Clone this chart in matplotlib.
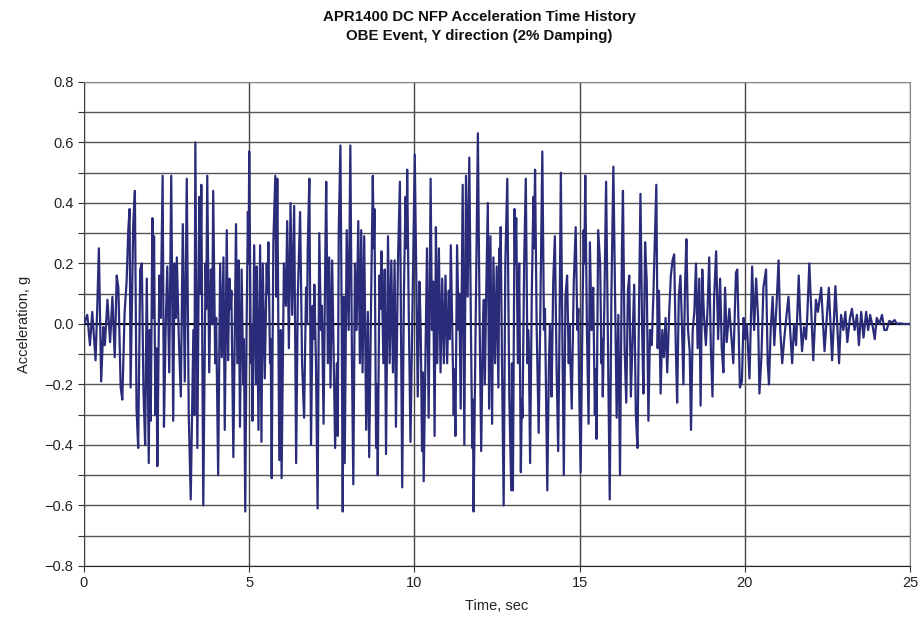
import matplotlib
matplotlib.use('Agg')
import matplotlib.pyplot as plt
import matplotlib.ticker as ticker

plt.rcParams['font.family'] = ['Liberation Sans', 'DejaVu Sans']

# ---------------------------------------------------------------------------
# Acceleration time history (extrema, in g)
# ---------------------------------------------------------------------------
time_s = [
    0.00, 0.10, 0.18, 0.25, 0.35, 0.40, 0.45, 0.52, 0.585, 0.63, 0.71, 0.79, 0.86, 0.93, 0.99,
    1.04, 1.11, 1.16, 1.23, 1.29, 1.34, 1.38, 1.41, 1.49, 1.54, 1.59, 1.64, 1.70, 1.75, 1.80,
    1.85, 1.90, 1.96, 1.99, 2.02, 2.07, 2.10, 2.12, 2.16, 2.19, 2.22, 2.28, 2.32, 2.38, 2.42,
    2.47, 2.52, 2.58, 2.64, 2.70, 2.74, 2.78, 2.81, 2.87, 2.93, 2.99, 3.05, 3.11, 3.17,
    3.23, 3.31, 3.34, 3.37, 3.43, 3.49, 3.52, 3.55, 3.61, 3.68, 3.70, 3.73, 3.79, 3.84, 3.88,
    3.91, 3.97, 4.00, 4.06, 4.12, 4.17, 4.22, 4.26, 4.32, 4.36, 4.40, 4.44, 4.46, 4.52, 4.60,
    4.64, 4.68, 4.72, 4.77, 4.82, 4.84, 4.88, 4.92, 4.96, 4.98, 5.00, 5.05, 5.07, 5.10, 5.15,
    5.20, 5.23, 5.28, 5.33, 5.37, 5.41, 5.47, 5.53, 5.55, 5.58, 5.63, 5.65, 5.68, 5.73, 5.79,
    5.82, 5.85, 5.91, 5.95, 5.98, 6.05, 6.11, 6.15, 6.20, 6.25, 6.30, 6.36, 6.42,
    6.47, 6.54, 6.60, 6.66, 6.72, 6.75, 6.77, 6.82, 6.87, 6.92, 6.95, 6.97, 7.02, 7.07, 7.12,
    7.17, 7.20, 7.25, 7.30, 7.33, 7.38, 7.42, 7.46, 7.51, 7.56, 7.60, 7.65, 7.68, 7.71, 7.76,
    7.80, 7.83, 7.86, 7.89, 7.95, 8.01, 8.06, 8.11, 8.15, 8.20, 8.25, 8.30, 8.35, 8.39, 8.43,
    8.48, 8.54, 8.59, 8.63, 8.69, 8.74, 8.77, 8.79, 8.84, 8.87, 8.89, 8.94, 8.97, 9.00, 9.06,
    9.10, 9.14, 9.20, 9.25, 9.30, 9.35, 9.40, 9.44, 9.50, 9.56, 9.63,
    9.68, 9.73, 9.76, 9.78, 9.83, 9.88, 9.93, 10.01, 10.05, 10.10, 10.15, 10.19, 10.23, 10.25,
    10.28, 10.33, 10.38, 10.43, 10.49, 10.53, 10.57, 10.61, 10.65, 10.69, 10.74, 10.79, 10.84,
    10.89, 10.94, 10.99, 11.04, 11.07, 11.10, 11.19, 11.21, 11.24, 11.29, 11.34, 11.36, 11.40,
    11.46, 11.51, 11.56, 11.61, 11.66, 11.71, 11.75, 11.77, 11.79, 11.85, 11.92, 11.97, 12.02,
    12.07, 12.10, 12.13, 12.17, 12.22, 12.26, 12.30, 12.35, 12.39, 12.44, 12.49, 12.54, 12.57,
    12.59, 12.61, 12.65, 12.70, 12.75, 12.81, 12.87,
    12.93, 12.95, 12.98, 13.03, 13.05, 13.08, 13.13, 13.17, 13.22, 13.25, 13.27, 13.32, 13.37,
    13.42, 13.44, 13.46, 13.50, 13.55, 13.60, 13.62, 13.65, 13.70, 13.76, 13.81, 13.87, 13.92,
    13.95, 13.97, 14.02, 14.07, 14.10, 14.12, 14.15, 14.20, 14.25, 14.30, 14.35, 14.39, 14.43,
    14.48, 14.52, 14.57, 14.62, 14.67, 14.69, 14.71, 14.76, 14.82, 14.88, 14.93, 14.96, 14.98,
    15.03, 15.08, 15.12, 15.14, 15.17, 15.22, 15.27, 15.31, 15.36, 15.41, 15.46, 15.49, 15.51,
    15.56, 15.62, 15.66, 15.68, 15.70, 15.75, 15.80, 15.85, 15.91, 15.96, 16.02,
    16.12, 16.17, 16.22, 16.28, 16.31, 16.36, 16.41, 16.46, 16.50, 16.55, 16.60, 16.65, 16.70,
    16.75, 16.80, 16.84, 16.89, 16.93, 16.98, 17.03, 17.08, 17.13, 17.18, 17.23, 17.27, 17.32,
    17.36, 17.40, 17.45, 17.50, 17.55, 17.60, 17.65, 17.71, 17.76, 17.81, 17.86, 17.91, 17.95,
    18.00, 18.05, 18.10, 18.14, 18.19, 18.23, 18.28, 18.33, 18.37, 18.42, 18.47, 18.52, 18.57,
    18.62, 18.66, 18.71, 18.76, 18.82, 18.87, 18.92, 18.97, 19.02, 19.07, 19.13, 19.19, 19.23,
    19.25, 19.30, 19.35, 19.40, 19.45, 19.53, 19.65, 19.73, 19.77, 19.85, 19.91, 19.96, 20.01,
    20.06, 20.14, 20.22, 20.28, 20.34, 20.40, 20.44, 20.50, 20.56, 20.64, 20.69, 20.73, 20.78,
    20.84, 20.89, 20.96, 21.02, 21.07, 21.13, 21.19, 21.27, 21.32, 21.37, 21.43, 21.49, 21.55,
    21.63, 21.67, 21.73, 21.79, 21.85, 21.89,
    21.95, 22.07, 22.15, 22.21, 22.31, 22.41, 22.54, 22.64, 22.74, 22.85, 22.91, 22.98, 23.04,
    23.10, 23.18, 23.24, 23.32, 23.39, 23.45, 23.52, 23.59, 23.67, 23.73, 23.79, 23.87, 23.93,
    23.99, 24.07, 24.15, 24.22, 24.29, 24.37, 24.46, 24.53, 24.60, 24.68, 24.83, 25.00,
]

accel_g = [
    0.00, 0.03, -0.07, 0.04, -0.12, 0.05, 0.25, -0.19, -0.01, -0.07, 0.08, -0.06, 0.09, -0.11, 0.16,
    0.12, -0.21, -0.25, 0.04, 0.14, 0.31, 0.38, -0.21, 0.33, 0.44, -0.28, -0.41, 0.18, 0.20, -0.22,
    -0.40, 0.15, -0.46, -0.02, -0.32, 0.35, 0.02, 0.29, -0.30, -0.08, -0.47, 0.16, 0.02, 0.49, -0.34,
    -0.02, 0.19, -0.16, 0.49, -0.32, 0.20, 0.02, 0.22, -0.05, -0.24, 0.33, -0.19, 0.48, -0.30,
    -0.58, -0.02, -0.30, 0.60, -0.41, 0.42, 0.10, 0.46, -0.60, 0.20, 0.05, 0.49, -0.16, 0.18, 0.00,
    0.44, -0.13, 0.02, -0.50, 0.20, -0.11, 0.22, -0.35, 0.31, -0.12, 0.15, 0.05, 0.11, -0.44, 0.33,
    -0.13, 0.21, -0.34, 0.18, -0.20, -0.05, -0.62, -0.02, 0.37, 0.20, 0.57, -0.13, 0.00, -0.32, 0.26,
    -0.20, 0.19, -0.35, 0.26, -0.39, 0.20, -0.18, 0.20, 0.10, 0.27, -0.13, -0.05, -0.51, 0.27, 0.49,
    0.09, 0.48, -0.45, -0.02, -0.51, 0.20, 0.06, 0.34, -0.08, 0.40, 0.03, 0.39, -0.46,
    0.09, 0.37, -0.13, -0.31, 0.12, 0.00, 0.25, 0.48, -0.40, 0.06, -0.05, 0.13, -0.13, -0.61, 0.30,
    -0.02, 0.06, -0.33, 0.20, 0.47, -0.13, 0.22, -0.21, 0.21, -0.13, -0.41, -0.13, -0.37, 0.31, 0.59,
    -0.02, -0.62, 0.09, -0.46, 0.31, -0.02, 0.59, -0.13, -0.53, 0.20, -0.02, 0.34, -0.13, 0.31, -0.16,
    0.29, -0.35, 0.04, -0.44, 0.09, 0.49, 0.25, 0.38, -0.41, -0.20, -0.50, 0.16, 0.05, 0.24, -0.13,
    0.18, -0.43, 0.29, -0.13, 0.21, -0.16, 0.21, -0.34, 0.20, 0.47, -0.54,
    0.09, 0.42, 0.25, 0.51, 0.02, -0.39, -0.02, 0.56, 0.20, -0.24, 0.14, -0.02, -0.42, -0.16,
    -0.52, -0.13, 0.25, -0.31, 0.48, -0.02, 0.14, -0.37, 0.32, -0.13, 0.25, -0.16, 0.15,
    -0.13, 0.16, -0.13, 0.11, -0.05, 0.26, -0.30, -0.15, -0.37, 0.26, -0.02, 0.10, -0.28,
    0.46, -0.40, 0.49, 0.09, 0.55, -0.02, -0.41, -0.25, -0.62, -0.02, 0.63, 0.03, -0.42,
    -0.02, 0.08, -0.20, 0.09, 0.40, -0.28, 0.29, -0.33, 0.22, -0.13, 0.19, -0.21, 0.25,
    0.15, 0.32, -0.13, -0.60, 0.20, 0.48, -0.24,
    -0.55, -0.13, -0.55, 0.38, 0.20, 0.35, -0.13, 0.20, -0.49, -0.25, -0.31, 0.20, 0.48,
    -0.13, -0.02, -0.06, -0.46, 0.09, 0.42, 0.25, 0.51, -0.02, -0.36, 0.04, 0.57, -0.02,
    0.05, -0.13, -0.55, -0.13, 0.00, -0.05, -0.24, 0.14, 0.29, -0.13, -0.42, -0.02, 0.50,
    -0.08, -0.50, 0.09, 0.16, -0.13, 0.00, -0.08, -0.28, 0.13, 0.32, -0.02, 0.05, -0.18,
    -0.49, -0.02, 0.31, 0.20, 0.49, -0.02, -0.33, 0.27, -0.02, 0.12, -0.30, -0.15, -0.38,
    0.31, 0.20, -0.13, -0.05, -0.24, 0.09, 0.47, -0.02, -0.58, 0.09, 0.52,
    -0.31, 0.03, -0.50, 0.25, 0.44, -0.08, -0.26, 0.11, 0.16, -0.24, -0.05, 0.13, -0.30,
    -0.41, 0.09, 0.43, -0.02, -0.23, 0.27, 0.14, -0.32, -0.02, -0.07, 0.09, 0.25, 0.46,
    -0.08, 0.11, -0.23, -0.02, -0.11, 0.02, -0.16, 0.04, 0.16, 0.21, 0.23, -0.08, -0.26,
    0.09, 0.16, -0.02, -0.20, 0.13, 0.28, -0.02, -0.09, -0.35, -0.02, 0.04, 0.20, -0.08,
    0.15, -0.27, 0.18, 0.03, -0.07, 0.05, 0.22, -0.08, -0.24, 0.09, 0.24, -0.05, 0.09,
    0.15, -0.08, -0.16, 0.12, -0.06, 0.05, -0.13, 0.17, 0.18, -0.21, -0.19, 0.02, -0.05,
    0.00, -0.18, 0.19, -0.02, 0.15, 0.02, -0.23, -0.11, 0.12, 0.18, -0.13, -0.20, -0.02,
    0.09, -0.07, 0.07, 0.21, -0.02, -0.13, -0.05, 0.04, 0.09, -0.02, -0.13, 0.00, -0.07,
    0.16, 0.03, -0.09, -0.01, -0.05, 0.03,
    0.20, -0.12, 0.08, 0.04, 0.12, -0.09, 0.12, -0.12, 0.125, -0.13, 0.03, -0.02, 0.04,
    -0.06, 0.02, 0.05, -0.02, 0.03, -0.07, 0.04, -0.045, 0.04, -0.02, 0.03, -0.01, -0.05,
    0.02, 0.00, 0.03, -0.02, -0.02, 0.01, 0.005, 0.013, 0.00, 0.002, 0.0, 0.0,
]

x_ticks = [0, 5, 10, 15, 20, 25]
y_ticks = [-0.8, -0.6, -0.4, -0.2, 0.0, 0.2, 0.4, 0.6, 0.8]

LINE_COLOR = '#2a2c7a'
GRID_COLOR = '#555555'

fig = plt.figure(figsize=(9.22, 6.23), dpi=100)
fig.patch.set_facecolor('white')
ax = fig.add_axes([0.0911, 0.0915, 0.896, 0.777])

ax.plot(time_s, accel_g, color=LINE_COLOR, linewidth=1.6, zorder=3)

ax.set_xlim(0, 25)
ax.set_ylim(-0.8, 0.8)
ax.set_xticks(x_ticks)
ax.set_yticks(y_ticks)
ax.yaxis.set_minor_locator(ticker.MultipleLocator(0.1))
ax.yaxis.set_major_formatter(
    ticker.FuncFormatter(lambda v, _: f'{v:.1f}'.replace('-', '\u2212')))

ax.grid(True, which='both', axis='y', color=GRID_COLOR, linewidth=1.0)
ax.grid(True, which='major', axis='x', color='#444444', linewidth=1.0)
ax.axhline(0, color='black', linewidth=1.4, zorder=2)
ax.set_axisbelow(True)

for side in ('top', 'right'):
    ax.spines[side].set_color('#888888')
ax.spines['left'].set_color('#444444')
ax.spines['bottom'].set_color('#222222')
ax.tick_params(axis='both', which='major', labelsize=10.5, length=4, width=0.8,
               colors='#333333', labelcolor='#222222')
ax.tick_params(axis='y', which='minor', length=4, width=0.8, color='#333333')

ax.set_xlabel('Time, sec', fontsize=10.5, color='#222222', labelpad=6)
ax.set_ylabel('Acceleration, g', fontsize=10.5, color='#222222', labelpad=10)

fig.text(0.52, 0.973, 'APR1400 DC NFP Acceleration Time History', ha='center', va='center',
         fontsize=10.8, fontweight='bold', color='#111111')
fig.text(0.52, 0.942, 'OBE Event, Y direction (2% Damping)', ha='center', va='center',
         fontsize=10.8, fontweight='bold', color='#111111')

fig.savefig('out.png', dpi=100, facecolor='white')
plt.close(fig)
